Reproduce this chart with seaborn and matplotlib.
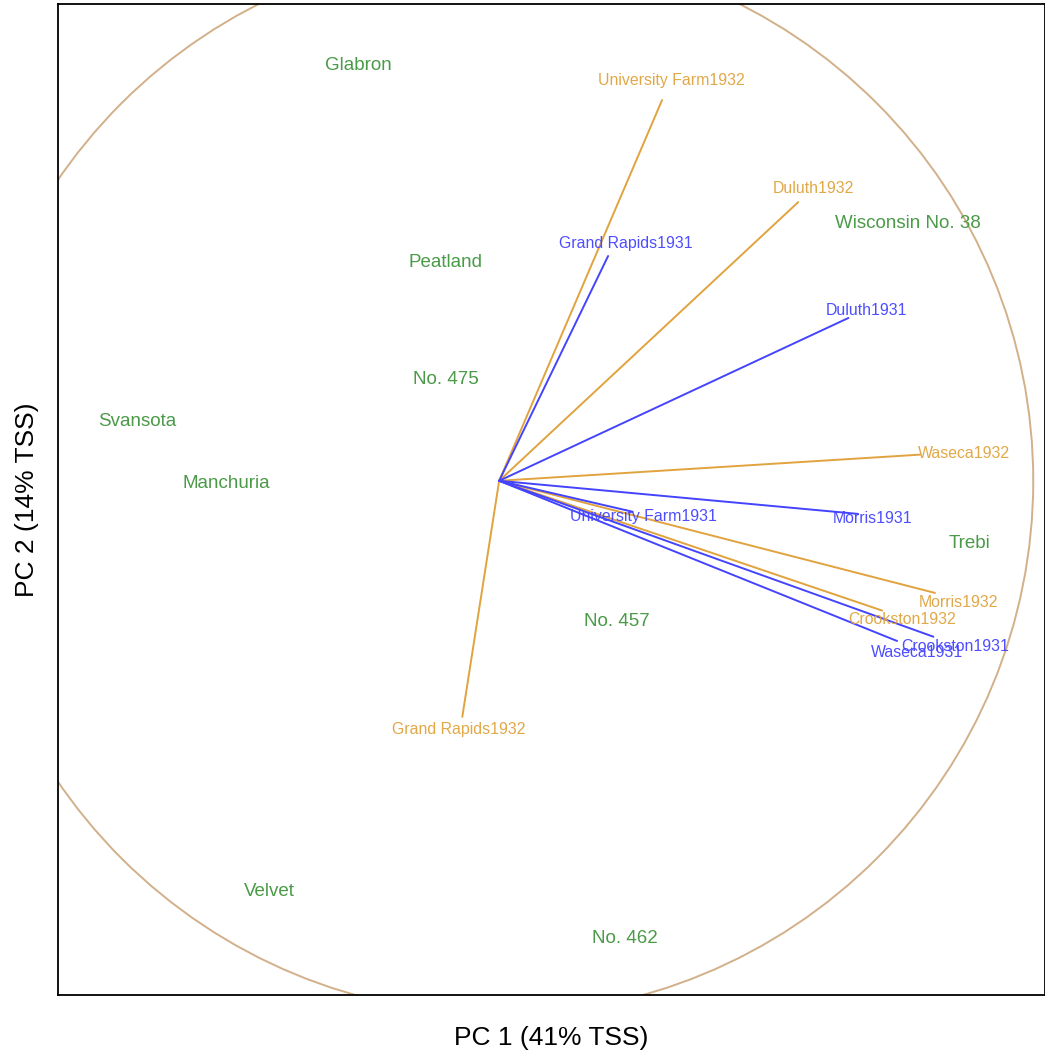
import numpy as np
import pandas as pd
import matplotlib
matplotlib.use("Agg")
import matplotlib.pyplot as plt
import seaborn as sns
from matplotlib.patches import Circle

# site-year loadings (arrow tips) and their label positions
sites = ["University Farm1932", "Duluth1932", "Grand Rapids1931", "Duluth1931",
         "Waseca1932", "Morris1931", "University Farm1931", "Morris1932",
         "Crookston1932", "Crookston1931", "Waseca1931", "Grand Rapids1932"]
site_year = ["1932", "1932", "1931", "1931", "1932", "1931", "1931", "1932",
             "1932", "1931", "1931", "1932"]
tip_x = [0.305, 0.560, 0.204, 0.654, 0.788, 0.672, 0.250, 0.816, 0.717, 0.813, 0.745, -0.069]
tip_y = [0.713, 0.522, 0.421, 0.305, 0.049, -0.062, -0.058, -0.210, -0.243, -0.292, -0.300, -0.442]
lab_x = [0.322, 0.588, 0.238, 0.687, 0.871, 0.700, 0.270, 0.860, 0.755, 0.854, 0.782, -0.075]
lab_y = [0.753, 0.551, 0.448, 0.322, 0.054, -0.067, -0.064, -0.225, -0.257, -0.307, -0.318, -0.463]

# genotype scores
varieties = ["Glabron", "Wisconsin No. 38", "Peatland", "No. 475", "Svansota",
             "Manchuria", "Trebi", "No. 457", "Velvet", "No. 462"]
var_x = [-0.264, 0.766, -0.101, -0.099, -0.678, -0.511, 0.880, 0.221, -0.431, 0.236]
var_y = [0.781, 0.485, 0.412, 0.193, 0.114, -0.002, -0.114, -0.260, -0.766, -0.854]

year_colors = {"1931": "#4444ff", "1932": "#e0a33e"}
green = "#4a9a48"

sns.set_style("white")
plt.rcParams["font.family"] = ["Liberation Sans", "DejaVu Sans"]

fig = plt.figure(figsize=(10.45, 10.52), dpi=100)
ax = fig.add_axes([0.0555, 0.0542, 0.9445, 0.942])

rows = []
for s, yr, x, y in zip(sites, site_year, tip_x, tip_y):
    rows.append({"site": s, "year": yr, "x": 0.0, "y": 0.0})
    rows.append({"site": s, "year": yr, "x": x, "y": y})
seg = pd.DataFrame(rows)
sns.lineplot(data=seg, x="x", y="y", hue="year", units="site", estimator=None,
             sort=False, palette=year_colors, linewidth=1.4, legend=False, ax=ax)

ax.add_patch(Circle((0, 0), 1.0, fill=False, edgecolor="#d2b08a", linewidth=1.4))

for s, yr, x, y in zip(sites, site_year, lab_x, lab_y):
    ax.text(x, y, s, color=year_colors[yr], fontsize=11.4, ha="center",
            va="center_baseline", alpha=0.95)

for v, x, y in zip(varieties, var_x, var_y):
    ax.text(x, y, v, color=green, fontsize=13.5, ha="center", va="center_baseline")

ax.set_xlim(-0.826, 1.022)
ax.set_ylim(-0.963, 0.893)
ax.set_xticks([])
ax.set_yticks([])
for sp in ax.spines.values():
    sp.set_color("black")
    sp.set_linewidth(1.3)
ax.set_xlabel("PC 1 (41% TSS)", fontsize=19, color="black", labelpad=22)
ax.set_ylabel("PC 2 (14% TSS)", fontsize=19, color="black", labelpad=14)

fig.savefig("out.png", dpi=100)
